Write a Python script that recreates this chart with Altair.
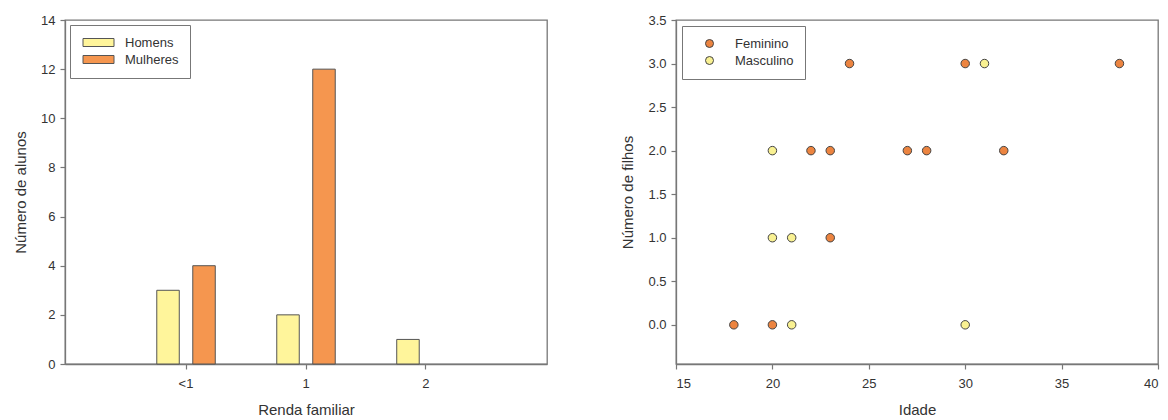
import altair as alt
import pandas as pd

# ---- data: left chart (bars) ----
renda = ["<1", "1", "2"]
homens = [3, 2, 1]
mulheres = [4, 12, 0]
sexo_barras = ["Homens", "Mulheres"]
cores_barras = ["#FFF59B", "#F5964F"]

# ---- data: right chart (scatter) ----
fem_idade = [18, 20, 23, 22, 23, 27, 28, 32, 24, 30, 38]
fem_filhos = [0, 0, 1, 2, 2, 2, 2, 2, 3, 3, 3]
masc_idade = [20, 20, 21, 21, 30, 31]
masc_filhos = [2, 1, 1, 0, 0, 3]
sexo_pontos = ["Feminino", "Masculino"]
cores_pontos = ["#EC8440", "#F9F192"]

bars_df = pd.DataFrame({
    "renda": renda + renda,
    "sexo": [sexo_barras[0]] * len(renda) + [sexo_barras[1]] * len(renda),
    "n": homens + mulheres,
})
pts_df = pd.DataFrame({
    "idade": fem_idade + masc_idade,
    "filhos": fem_filhos + masc_filhos,
    "sexo": [sexo_pontos[0]] * len(fem_idade) + [sexo_pontos[1]] * len(masc_idade),
})

FONT = "Liberation Sans"
TXT = "#333333"
LINE = "#777777"
W, H = 482, 344

bar_legend = alt.Legend(
    title=None, orient="top-left", offset=5, padding=11,
    strokeColor=LINE, fillColor="white",
    symbolType="M-3.875,-1H3.875V1H-3.875Z", symbolSize=64,
    symbolStrokeColor="#555555", symbolStrokeWidth=1,
    symbolOffset=11, labelOffset=20, rowPadding=3,
    labelFont=FONT, labelFontSize=13, labelColor=TXT,
)

left = alt.Chart(bars_df).transform_filter("datum.n > 0").mark_bar(
    stroke="#555555", strokeWidth=1
).encode(
    x=alt.X("renda:N", sort=renda,
            scale=alt.Scale(paddingInner=0.5125, paddingOuter=0.765),
            axis=alt.Axis(title="Renda familiar", labelAngle=0)),
    xOffset=alt.XOffset("sexo:N",
                        scale=alt.Scale(domain=sexo_barras, paddingInner=0.375, paddingOuter=0)),
    y=alt.Y("n:Q", scale=alt.Scale(domain=[0, 14], nice=False),
            axis=alt.Axis(title="Número de alunos", values=list(range(0, 15, 2)))),
    color=alt.Color("sexo:N", scale=alt.Scale(domain=sexo_barras, range=cores_barras),
                    legend=bar_legend),
).properties(width=W, height=H)

pt_legend = alt.Legend(
    title=None, orient="top-left", offset=6, padding=11,
    strokeColor=LINE, fillColor="white",
    symbolType="circle", symbolSize=64,
    symbolStrokeColor="#444444", symbolStrokeWidth=1,
    symbolOffset=10, labelOffset=19, rowPadding=3,
    labelFont=FONT, labelFontSize=13, labelColor=TXT,
)

right = alt.Chart(pts_df).mark_circle(
    size=72, opacity=1, stroke="#444444", strokeWidth=1
).encode(
    x=alt.X("idade:Q", scale=alt.Scale(domain=[15, 40], nice=False),
            axis=alt.Axis(title="Idade", values=list(range(15, 41, 5)))),
    y=alt.Y("filhos:Q", scale=alt.Scale(domain=[-0.45, 3.5], nice=False, zero=False),
            axis=alt.Axis(title="Número de filhos", format=".1f",
                          values=[0, 0.5, 1, 1.5, 2, 2.5, 3, 3.5])),
    color=alt.Color("sexo:N", scale=alt.Scale(domain=sexo_pontos, range=cores_pontos),
                    legend=pt_legend),
).properties(width=W, height=H)

chart = alt.hconcat(left, right, spacing=72).resolve_scale(
    color="independent"
).resolve_legend(color="independent").properties(
    padding={"left": 4, "top": 5, "right": 0, "bottom": 0}
).configure_view(
    stroke=LINE, strokeWidth=1.3
).configure_axis(
    grid=False, domainColor=LINE, domainWidth=1.3,
    tickColor=LINE, tickSize=5, tickWidth=1.2,
    labelFont=FONT, labelFontSize=13, labelColor=TXT, labelPadding=5,
    titleFont=FONT, titleFontSize=15, titleFontWeight="normal", titleColor=TXT,
).configure_axisY(
    titlePadding=12
).configure_axisX(
    labelPadding=8, titlePadding=12
)

chart.save("out.html", embed_options={"renderer": "svg", "actions": False})
